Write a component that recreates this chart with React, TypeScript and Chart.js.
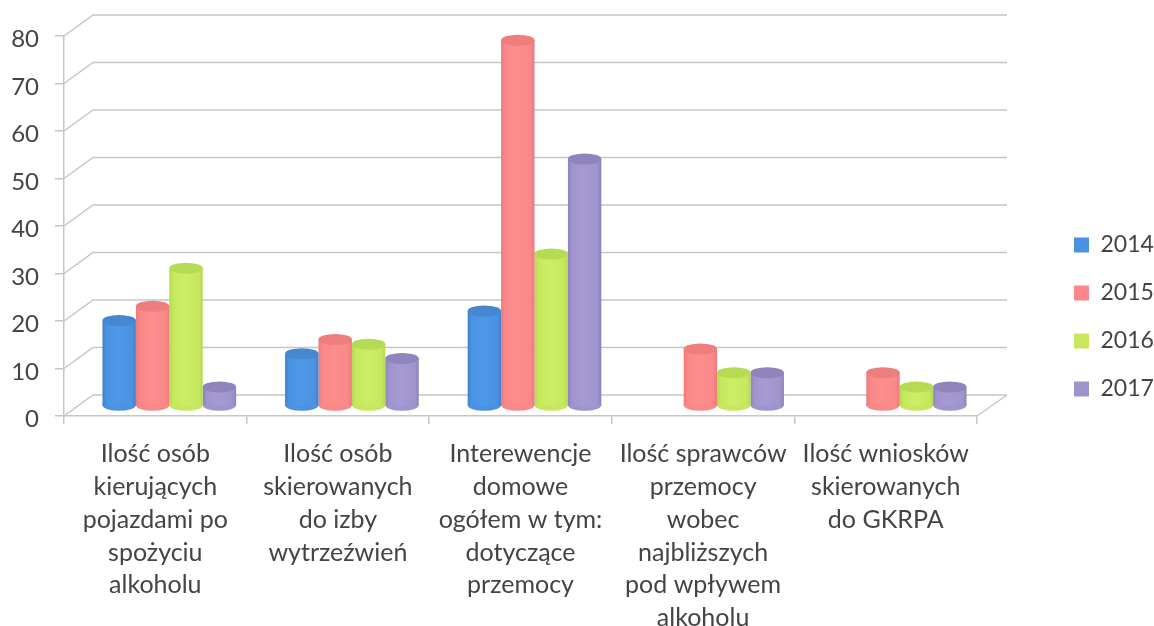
import React, { useEffect, useRef } from "react";
import { Chart, registerables } from "chart.js";

Chart.register(...registerables);

const categories: string[][] = [
  ["Ilość osób", "kierujących", "pojazdami po", "spożyciu", "alkoholu"],
  ["Ilość osób", "skierowanych", "do izby", "wytrzeźwień"],
  ["Interewencje", "domowe", "ogółem w tym:", "dotyczące", "przemocy"],
  ["Ilość sprawców", "przemocy", "wobec", "najbliższych", "pod wpływem", "alkoholu"],
  ["Ilość wniosków", "skierowanych", "do GKRPA"],
];
const v2014 = [18, 11, 20, null, null];
const v2015 = [21, 14, 77, 12, 7];
const v2016 = [29, 13, 32, 7, 4];
const v2017 = [4, 10, 52, 7, 4];

const FONT = "Lato";
const TEXT = "#444444";
const GRID = "#c6c6c6";
const DX = 29;
const DY = 21;
const BAR_DX = 14;
const BAR_DY = 10;
const RY = 5.5;

const palette = [
  { main: "#4a92e2", light: "#4f98e8", dark: "#3f82cc", cap: "#4688d0" },
  { main: "#fa8888", light: "#fc8e8e", dark: "#ec7a7a", cap: "#ee7e7e" },
  { main: "#c6e85e", light: "#cced66", dark: "#b4d850", cap: "#b6da54" },
  { main: "#a094ce", light: "#a69ad4", dark: "#8e82ba", cap: "#9084bc" },
];

function barFill(ctx: any, i: number) {
  const p = palette[i];
  if (ctx.dataIndex === undefined) return p.main;
  const x = ctx.chart.scales?.x;
  if (!x) return p.main;
  const cw = x.width / categories.length;
  const w = (cw * 0.732) / 4;
  const left = x.getPixelForValue(ctx.dataIndex) + (i - 2) * w;
  if (!Number.isFinite(left) || !Number.isFinite(w)) return p.main;
  const g = ctx.chart.ctx.createLinearGradient(left, 0, left + w, 0);
  g.addColorStop(0, p.dark);
  g.addColorStop(0.12, p.main);
  g.addColorStop(0.45, p.light);
  g.addColorStop(0.88, p.main);
  g.addColorStop(1, p.dark);
  return g;
}

function hasValue(chart: any, datasetIndex: number, i: number) {
  return chart.data.datasets[datasetIndex].data[i] != null;
}

const walls = {
  id: "walls",
  beforeDraw(chart: any) {
    const items = chart.scales.y.getLabelItems();
    items.forEach((it: any) => {
      if (!it.__shifted) {
        it.options.translation = [it.options.translation[0], it.options.translation[1] + 3.5];
        it.__shifted = true;
      }
    });
  },
  beforeDatasetsDraw(chart: any) {
    const { ctx, scales } = chart;
    const x0 = scales.x.left;
    const x1 = scales.x.right;
    ctx.save();
    ctx.strokeStyle = GRID;
    ctx.lineWidth = 1.5;
    scales.y.ticks.forEach((t: any) => {
      const y = scales.y.getPixelForValue(t.value);
      ctx.beginPath();
      ctx.moveTo(x0, y);
      ctx.lineTo(x0 + DX, y - DY);
      ctx.lineTo(x1 + DX + 1, y - DY);
      if (t.value === 0) {
        ctx.moveTo(x1, y);
        ctx.lineTo(x1 + DX + 1, y - DY);
      }
      ctx.stroke();
    });
    ctx.restore();
    ctx.save();
    ctx.translate(BAR_DX, -BAR_DY);
  },
  afterDatasetsDraw(chart: any) {
    chart.ctx.restore();
  },
  beforeDatasetDraw(chart: any, args: any) {
    const { ctx } = chart;
    chart.getDatasetMeta(args.index).data.forEach((el: any, i: number) => {
      if (!hasValue(chart, args.index, i)) return;
      ctx.fillStyle = palette[args.index].main;
      ctx.beginPath();
      ctx.ellipse(el.x, el.base, el.width / 2, RY, 0, 0, Math.PI * 2);
      ctx.fill();
    });
  },
  afterDatasetDraw(chart: any, args: any) {
    const { ctx } = chart;
    chart.getDatasetMeta(args.index).data.forEach((el: any, i: number) => {
      if (!hasValue(chart, args.index, i)) return;
      ctx.fillStyle = palette[args.index].cap;
      ctx.beginPath();
      ctx.ellipse(el.x, el.y, el.width / 2, RY, 0, 0, Math.PI * 2);
      ctx.fill();
    });
  },
  beforeLayout(chart: any) {
    const l = chart.legend;
    if (l && !l.__wide) {
      const f = l.fit.bind(l);
      l.fit = () => {
        f();
        l.width = 177;
      };
      l.__wide = true;
    }
  },
  afterLayout(chart: any) {
    const l = chart.legend;
    if (l) {
      l.left = 1075 - 26;
      l.right = 1154;
      l.top -= 14;
      l.bottom -= 14;
    }
  },
};

export default function App() {
  const ref = useRef<HTMLCanvasElement>(null);
  useEffect(() => {
    document.body.style.margin = "0";
    document.body.style.background = "#ffffff";
    const series = [
      ["2014", v2014],
      ["2015", v2015],
      ["2016", v2016],
      ["2017", v2017],
    ] as const;
    const chart = new Chart(ref.current!, {
      type: "bar",
      data: {
        labels: categories as any,
        datasets: series.map(([label, data], i) => ({
          label,
          data: data as any,
          clip: false as any,
          backgroundColor: (c: any) => barFill(c, i),
          borderWidth: 0,
          categoryPercentage: 0.732,
          barPercentage: 1,
        })),
      },
      options: {
        responsive: false,
        animation: false,
        layout: { padding: { top: 36, left: 0, right: 0, bottom: 0 } },
        plugins: {
          tooltip: { enabled: false },
          title: { display: false },
          legend: {
            display: true,
            position: "right",
            labels: {
              boxWidth: 15,
              boxHeight: 15,
              padding: 25,
              color: TEXT,
              font: { family: FONT, size: 23 },
              generateLabels: (c: any) =>
                (Chart.defaults.plugins.legend.labels as any)
                  .generateLabels(c)
                  .map((item: any, i: number) => ({
                    ...item,
                    fillStyle: palette[i].main,
                    strokeStyle: palette[i].main,
                    lineWidth: 0,
                  })),
            },
          },
        },
        scales: {
          x: {
            afterFit: (s: any) => {
              s.height = 210;
            },
            grid: { drawOnChartArea: false, drawTicks: true, tickLength: 8, color: GRID, lineWidth: 1.5 },
            border: { color: GRID, width: 1.5 },
            ticks: {
              color: TEXT,
              padding: 14,
              maxRotation: 0,
              autoSkip: false,
              font: { family: FONT, size: 25, lineHeight: 1.31 },
            },
          },
          y: {
            min: 0,
            max: 80,
            afterFit: (s: any) => {
              s.width = 64;
            },
            grid: { drawOnChartArea: false, drawTicks: true, tickLength: 9, color: GRID, lineWidth: 1.5 },
            border: { color: GRID, width: 1.5 },
            ticks: {
              stepSize: 10,
              color: TEXT,
              padding: 16,
              font: { family: FONT, size: 24 },
            },
          },
        },
      },
      plugins: [walls],
    });
    return () => chart.destroy();
  }, []);
  return <canvas ref={ref} width={1154} height={626} style={{ display: "block" }} />;
}
